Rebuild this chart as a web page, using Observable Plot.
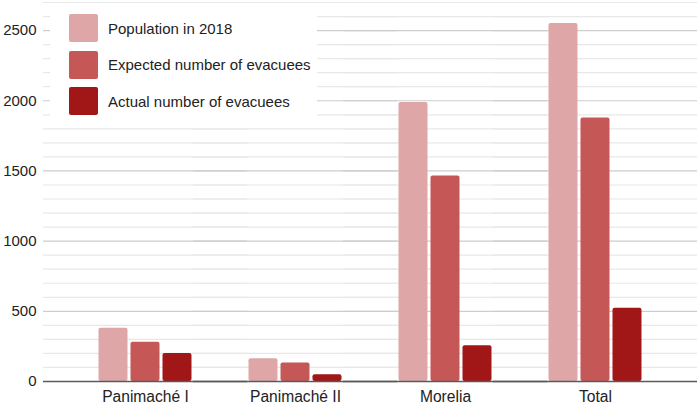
<!DOCTYPE html>
<html>
<head>
<meta charset="utf-8">
<script src="https://cdn.jsdelivr.net/npm/d3@7"></script>
<script src="https://cdn.jsdelivr.net/npm/@observablehq/plot@0.6"></script>
<style>
  html, body { margin: 0; padding: 0; background: #fff; }
  #wrap { position: relative; width: 699px; height: 404px; font-family: "Liberation Sans", Arial, sans-serif; }
  #legend { position: absolute; left: 50px; top: 8px; width: 267px; height: 114px; background: #fff; }
  .item { position: absolute; left: 19px; display: flex; align-items: center; height: 28px; }
  .sw { width: 29px; height: 28px; border-radius: 2px; margin-right: 10px; }
  .lab { font-size: 15px; color: #222; white-space: nowrap; }
</style>
</head>
<body>
<div id="wrap"></div>
<script>
const groups = ["Panimaché I", "Panimaché II", "Morelia", "Total"];
const series = ["Population in 2018", "Expected number of evacuees", "Actual number of evacuees"];
const population = [380, 162, 1988, 2550];
const expected = [280, 131, 1464, 1877];
const actual = [200, 48, 255, 521];
const colors = ["#dfa6a7", "#c65757", "#a11717"];
const yTicks = [0, 500, 1000, 1500, 2000, 2500];
const minorTicks = d3.range(0, 2701, 100).filter(v => v % 500 !== 0);
const majorTicks = d3.range(500, 2701, 500);

const valuesBySeries = [population, expected, actual];
const data = [];
groups.forEach((g, i) => {
  series.forEach((s, j) => data.push({group: g, series: s, value: valuesBySeries[j][i]}));
});

const chart = Plot.plot({
  width: 699,
  height: 404,
  marginLeft: 70,
  marginRight: 29,
  marginTop: 2,
  marginBottom: 23,
  style: {fontFamily: "Liberation Sans, Arial, sans-serif", fontSize: "15px", color: "#222", background: "#fff"},
  fx: {domain: groups, padding: 0, label: null, axis: null},
  x: {domain: series, axis: null, paddingInner: 0.094, paddingOuter: 0.891, round: false},
  y: {domain: [0, 2700], axis: null, label: null},
  color: {domain: series, range: colors},
  marks: [
    Plot.ruleY(minorTicks, {stroke: "#e8e8e8", strokeWidth: 1.2, insetLeft: -27, insetRight: -27}),
    Plot.ruleY(majorTicks, {stroke: "#cdcdcd", strokeWidth: 1.2, insetLeft: -27, insetRight: -27}),
    Plot.barY(data, {fx: "group", x: "series", y: "value", fill: "series", rx: 2}),
    Plot.ruleY([0], {stroke: "#5a5a5a", strokeWidth: 1.5, insetLeft: -27, insetRight: -27}),
    Plot.axisY({ticks: yTicks, tickFormat: "d", tickSize: 0, tickPadding: 34, label: null, fontSize: 15}),
    Plot.axisFx({anchor: "bottom", tickSize: 0, tickPadding: 9, label: null, fontSize: 15.6})
  ]
});

const wrap = document.getElementById("wrap");
wrap.appendChild(chart);

const legend = document.createElement("div");
legend.id = "legend";
series.forEach((s, j) => {
  const item = document.createElement("div");
  item.className = "item";
  item.style.top = (6 + j * 36.5) + "px";
  const sw = document.createElement("div");
  sw.className = "sw";
  sw.style.background = colors[j];
  const lab = document.createElement("span");
  lab.className = "lab";
  lab.textContent = s;
  item.appendChild(sw);
  item.appendChild(lab);
  legend.appendChild(item);
});
wrap.appendChild(legend);
</script>
</body>
</html>
